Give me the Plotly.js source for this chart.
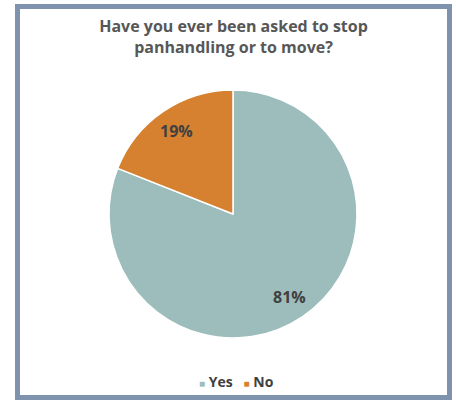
<!DOCTYPE html>
<html>
<head>
<meta charset="utf-8">
<script src="https://cdn.plot.ly/plotly-3.0.1.min.js"></script>
<style>
html,body{margin:0;padding:0;background:#fff;width:456px;height:400px;overflow:hidden;}
#frame{position:absolute;left:15px;top:4px;width:427px;height:386px;border:5px solid #7f93ae;background:#fff;}
#chart{width:427px;height:386px;}
</style>
</head>
<body>
<div id="frame"><div id="chart"></div></div>
<script>
const titleText = "Have you ever been asked to stop<br>panhandling or to move?";
const categories = ["Yes", "No"];
const values = [81, 19];
const colors = ["#9cbdbb", "#d6812f"];

const W = 427, H = 386;
const dom = {x: [0.2084, 0.7892], y: [0.1477, 0.7902]};
const FONT = "'Open Sans', Lato, sans-serif";

const trace = {
  type: "pie",
  labels: categories,
  values: values,
  sort: false,
  direction: "clockwise",
  rotation: 0,
  marker: {colors: colors, line: {color: "#ffffff", width: 1.5}},
  textinfo: "none",
  hoverinfo: "none",
  showlegend: false,
  domain: dom
};

// percentage labels placed along each slice's mid-angle
const total = values.reduce((a, b) => a + b, 0);
const cx = (dom.x[0] + dom.x[1]) / 2, cy = (dom.y[0] + dom.y[1]) / 2;
const R = Math.min((dom.x[1] - dom.x[0]) * W, (dom.y[1] - dom.y[0]) * H) / 2;
const labelFrac = 0.81;
const annotations = [];
let cum = 0;
values.forEach((v, i) => {
  const mid = (cum + v / 2) / total * 2 * Math.PI;
  cum += v;
  annotations.push({
    xref: "paper", yref: "paper",
    x: cx + labelFrac * R * Math.sin(mid) / W,
    y: cy + labelFrac * R * Math.cos(mid) / H,
    text: Math.round(v / total * 100) + "%",
    showarrow: false, xanchor: "center", yanchor: "middle",
    font: {family: FONT, size: 16, color: "#404040", weight: "bold"}
  });
});

// legend row built from categories and colours
const legendText = categories.map((c, i) =>
  '<span style="color:' + colors[i] + ';font-size:10px">\u25A0</span>\u00A0' + c
).join("\u00A0\u00A0\u00A0");
annotations.push({
  xref: "paper", yref: "paper", x: 0.506, y: 0.036,
  xanchor: "center", yanchor: "middle", showarrow: false,
  text: legendText,
  font: {family: FONT, size: 14, color: "#404040", weight: "bold"}
});

const layout = {
  width: W, height: H,
  margin: {l: 0, r: 0, t: 0, b: 0},
  paper_bgcolor: "#ffffff",
  title: {
    text: titleText,
    font: {family: FONT, size: 16, color: "#575757", weight: "bold"},
    x: 0.5, xanchor: "center", y: 0.94, yanchor: "top"
  },
  showlegend: false,
  annotations: annotations
};

Plotly.newPlot("chart", [trace], layout, {displayModeBar: false, staticPlot: true});
</script>
</body>
</html>
